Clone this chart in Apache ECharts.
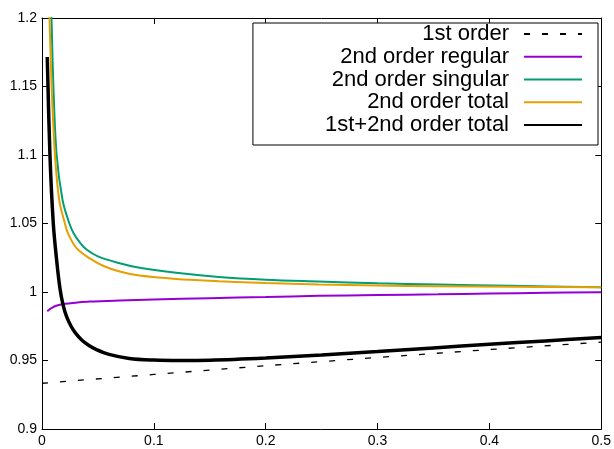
<!DOCTYPE html>
<html>
<head>
<meta charset="utf-8">
<script src="https://cdn.jsdelivr.net/npm/echarts@6/dist/echarts.min.js"></script>
<style>
html,body{margin:0;padding:0;background:#fff;}
#chart{width:614px;height:449px;}
</style>
</head>
<body>
<div id="chart"></div>
<script>
const seriesNames = ['1st order', '2nd order regular', '2nd order singular', '2nd order total', '1st+2nd order total'];
const xTicks = [0, 0.1, 0.2, 0.3, 0.4, 0.5];
const yTicks = [0.9, 0.95, 1, 1.05, 1.1, 1.15, 1.2];

const firstOrder = [[0, 0.9334], [0.1, 0.9398], [0.2, 0.9462], [0.3, 0.9522], [0.4, 0.958], [0.5, 0.9634]];

const secondRegular = [[0.0047, 0.986], [0.008, 0.988], [0.012, 0.9898], [0.0205, 0.9914], [0.03, 0.9922],
  [0.0427, 0.993], [0.0694, 0.9938], [0.1, 0.9945], [0.15, 0.9955], [0.2, 0.9963], [0.247, 0.9972],
  [0.3, 0.9978], [0.354, 0.9983], [0.4, 0.9989], [0.45, 0.9994], [0.5, 0.9999]];

const secondSingular = [[0.0045, 1.32], [0.0085, 1.2], [0.0102, 1.15], [0.0131, 1.1], [0.0184, 1.067],
  [0.0245, 1.05], [0.0285, 1.0425], [0.034, 1.036], [0.0398, 1.031], [0.05, 1.026], [0.0694, 1.021],
  [0.0872, 1.0177], [0.12, 1.014], [0.158, 1.011], [0.2, 1.009], [0.247, 1.0077], [0.3, 1.0064],
  [0.354, 1.0055], [0.42, 1.0045], [0.5, 1.0035]];

const secondTotal = [[0.0045, 1.24], [0.0067, 1.2], [0.0086, 1.15], [0.0116, 1.1], [0.0154, 1.067],
  [0.0205, 1.05], [0.0234, 1.0425], [0.0309, 1.032], [0.0427, 1.0245], [0.055, 1.019], [0.0694, 1.015],
  [0.0872, 1.012], [0.12, 1.0095], [0.158, 1.0079], [0.2, 1.0065], [0.247, 1.0055], [0.3, 1.0047],
  [0.354, 1.0042], [0.42, 1.0038], [0.5, 1.0035]];

const fullTotal = [[0.0047, 1.1715], [0.0071, 1.1], [0.0101, 1.05], [0.013, 1.024], [0.016, 1.003],
  [0.019, 0.990], [0.022, 0.982], [0.026, 0.975], [0.03, 0.970], [0.036, 0.9646], [0.042, 0.961],
  [0.0487, 0.958], [0.06, 0.9545], [0.078, 0.9515], [0.1, 0.9503], [0.123, 0.95], [0.15, 0.9502],
  [0.2, 0.9518], [0.25, 0.954], [0.3, 0.9565], [0.35, 0.9592], [0.4, 0.9618], [0.45, 0.9643], [0.5, 0.9667]];

const FONT = '"Liberation Sans", Arial, sans-serif';
const chart = echarts.init(document.getElementById('chart'), null, {renderer: 'canvas'});

function axisCommon(isX, showLabel, pos) {
  return {
    type: 'value',
    position: pos,
    min: isX ? xTicks[0] : yTicks[0],
    max: isX ? xTicks[xTicks.length - 1] : yTicks[yTicks.length - 1],
    interval: isX ? 0.1 : 0.05,
    axisLine: {show: true, onZero: false, lineStyle: {color: '#000', width: 1}},
    axisTick: {show: true, inside: true, length: 6, lineStyle: {color: '#000', width: 1}},
    splitLine: {show: false},
    axisLabel: {
      show: showLabel, color: '#000', fontSize: 14, fontFamily: FONT,
      margin: 5
    }
  };
}

const lineBase = {type: 'line', symbol: 'none', smooth: 0.35, clip: true, xAxisIndex: 0, yAxisIndex: 0};

chart.setOption({
  animation: false,
  backgroundColor: '#fff',
  grid: {left: 42, right: 10, top: 18, bottom: 20, containLabel: false},
  xAxis: [axisCommon(true, true, 'bottom'), axisCommon(true, false, 'top')],
  yAxis: [axisCommon(false, true, 'left'), axisCommon(false, false, 'right')],
  legend: {
    orient: 'vertical',
    align: 'right',
    right: 16,
    top: 23,
    padding: [0, 15, 9, 72],
    itemGap: 0.75,
    itemWidth: 58,
    itemHeight: 14,
    backgroundColor: '#fff',
    borderColor: '#000',
    borderWidth: 1,
    itemStyle: {opacity: 0},
    textStyle: {fontSize: 22, fontFamily: FONT, color: '#000', lineHeight: 20, padding: [0, 10, 0, 0]},
    data: seriesNames
  },
  series: [
    Object.assign({}, lineBase, {name: seriesNames[0], data: firstOrder, smooth: false,
      lineStyle: {color: '#000', width: 1.3, type: [6, 12]}, itemStyle: {color: '#000'}}),
    Object.assign({}, lineBase, {name: seriesNames[1], data: secondRegular,
      lineStyle: {color: '#9400d3', width: 2}, itemStyle: {color: '#9400d3'}}),
    Object.assign({}, lineBase, {name: seriesNames[2], data: secondSingular,
      lineStyle: {color: '#009e73', width: 2}, itemStyle: {color: '#009e73'}}),
    Object.assign({}, lineBase, {name: seriesNames[3], data: secondTotal,
      lineStyle: {color: '#e69f00', width: 2}, itemStyle: {color: '#e69f00'}}),
    Object.assign({}, lineBase, {name: seriesNames[4], data: fullTotal,
      lineStyle: {color: '#000', width: 3.5}, itemStyle: {color: '#000'}})
  ]
});
</script>
</body>
</html>
